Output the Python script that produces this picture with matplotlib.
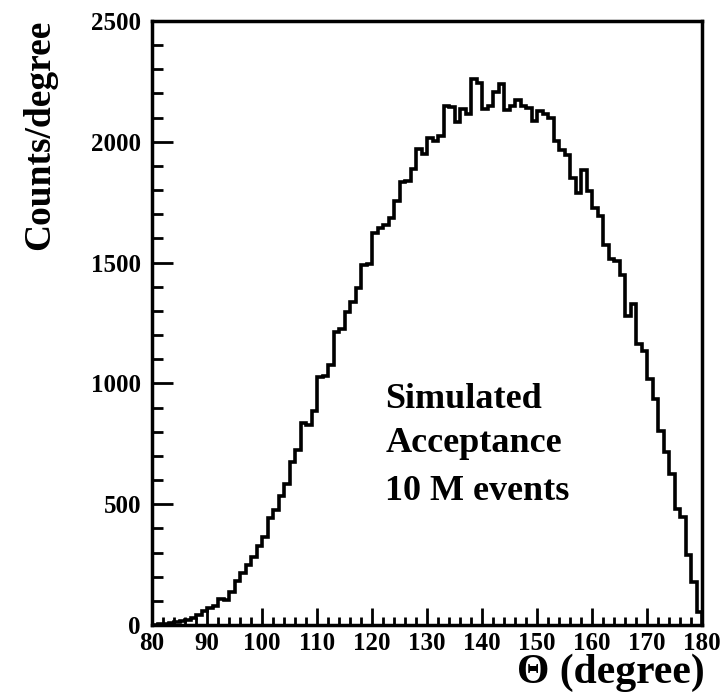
import numpy as np
import matplotlib.pyplot as plt

# 1-degree bins from 80 to 180
theta_low = np.arange(80, 180)
counts = [2, 3, 5, 7, 12, 15, 20, 28, 41, 59,
          69, 80, 108, 104, 135, 182, 217, 249, 281, 325,
          364, 442, 474, 535, 585, 673, 725, 836, 829, 885,
          1027, 1030, 1078, 1212, 1225, 1296, 1337, 1395, 1490, 1495,
          1624, 1645, 1656, 1685, 1754, 1835, 1838, 1886, 1972, 1949,
          2017, 2004, 2022, 2148, 2145, 2081, 2135, 2114, 2260, 2243,
          2135, 2149, 2208, 2239, 2132, 2149, 2174, 2149, 2139, 2087,
          2128, 2114, 2097, 2004, 1967, 1944, 1850, 1790, 1883, 1797,
          1728, 1693, 1573, 1516, 1506, 1448, 1278, 1330, 1165, 1136,
          1019, 936, 805, 716, 625, 480, 449, 290, 176, 55]
edges = np.append(theta_low, theta_low[-1] + 1)

x_ticks = [80, 90, 100, 110, 120, 130, 140, 150, 160, 170, 180]
y_ticks = [0, 500, 1000, 1500, 2000, 2500]
note_lines = ["Simulated", "Acceptance", "10 M events"]

plt.rcParams['font.family'] = ['Liberation Serif', 'DejaVu Serif']
plt.rcParams['font.weight'] = 'bold'

fig = plt.figure(figsize=(7.26, 6.95), dpi=100)
ax = fig.add_axes([152/726, 1 - 625/695, 550/726, 604/695])

ax.stairs(counts, edges, color='black', linewidth=2.6)

ax.set_xlim(80, 180)
ax.set_ylim(0, 2500)
ax.set_xticks(x_ticks)
ax.set_xticks(np.arange(80, 181, 2), minor=True)
ax.set_yticks(y_ticks)
ax.set_yticks(np.arange(0, 2501, 100), minor=True)
ax.tick_params(axis='both', which='both', direction='in', top=False, right=False,
               labelsize=18, width=2)
ax.tick_params(axis='y', which='major', length=15, pad=8)
ax.tick_params(axis='y', which='minor', length=8)
ax.tick_params(axis='x', which='major', length=12, pad=5)
ax.tick_params(axis='x', which='minor', length=6)
for lab in ax.get_xticklabels() + ax.get_yticklabels():
    lab.set_fontweight('bold')
for sp in ax.spines.values():
    sp.set_linewidth(2.5)

fig.text(40/726, 1 - 20/695, "Counts/degree", rotation=90, ha='center', va='top',
         fontsize=27, fontweight='bold')
fig.text(705/726, 1 - 683/695, "\u0398 (degree)", ha='right', va='baseline',
         fontsize=30, fontweight='bold')

for line, yb in zip(note_lines, [0.359, 0.286, 0.207]):
    ax.text(0.424, yb, line, transform=ax.transAxes, ha='left', va='baseline',
            fontsize=26, fontweight='bold')

fig.savefig('out.png', dpi=100)
